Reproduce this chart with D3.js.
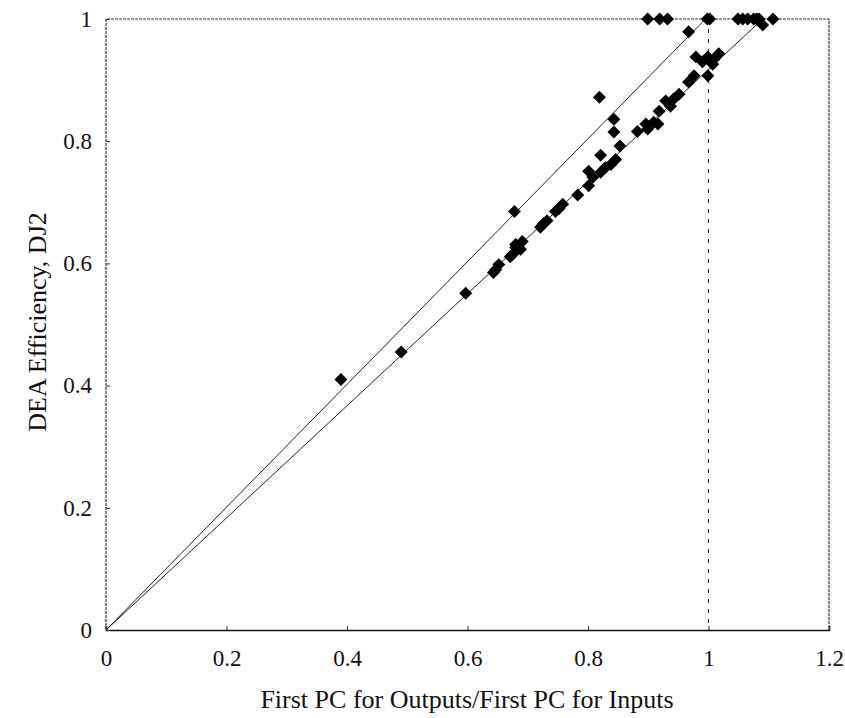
<!DOCTYPE html>
<html>
<head>
<meta charset="utf-8">
<script src="https://cdn.jsdelivr.net/npm/d3@7"></script>
<style>
  body { margin: 0; background: #fff; }
  text { font-family: "Liberation Serif", "DejaVu Serif", serif; fill: #111; }
</style>
</head>
<body>
<script>
// tick values on both axes
var xTicks = [0, 0.2, 0.4, 0.6, 0.8, 1, 1.2],
    yTicks = [0, 0.2, 0.4, 0.6, 0.8, 1];

// firms: ratio of first PCs (x) against DEA efficiency (y)
var ratio = [0.39, 0.49, 0.597, 0.643, 0.647, 0.652, 0.671, 0.675, 0.680, 0.688, 0.680, 0.691,
    0.678, 0.721, 0.726, 0.732, 0.746, 0.752, 0.758, 0.783, 0.801, 0.808, 0.801, 0.821,
    0.829, 0.838, 0.846, 0.821, 0.853, 0.843, 0.843, 0.819, 0.882, 0.896, 0.899, 0.909,
    0.916, 0.918, 0.929, 0.937, 0.942, 0.951, 0.967, 0.976, 0.999, 0.979, 0.990, 0.999,
    1.007, 1.017, 1.010, 0.967, 0.899, 0.919, 0.932, 0.998, 1.002, 1.049, 1.057, 1.065,
    1.075, 1.080, 1.084, 1.090, 1.107];
var efficiency = [0.41, 0.455, 0.551, 0.585, 0.590, 0.598, 0.611, 0.615, 0.626, 0.623, 0.631, 0.636,
    0.685, 0.659, 0.665, 0.670, 0.685, 0.690, 0.697, 0.712, 0.727, 0.741, 0.751, 0.749,
    0.757, 0.762, 0.770, 0.777, 0.792, 0.815, 0.836, 0.872, 0.816, 0.828, 0.820, 0.831,
    0.828, 0.849, 0.866, 0.857, 0.869, 0.877, 0.897, 0.907, 0.907, 0.938, 0.930, 0.938,
    0.926, 0.943, 0.935, 0.979, 1, 1, 1, 1, 1, 1, 1, 1,
    1, 1, 1, 0.99, 1];

// the two rays from the origin
var upperRay = [[0, 0], [0.995, 1]],
    lowerRay = [[0, 0], [1.09, 1]];

var width = 845, height = 718;
var margin = {left: 106, right: 16, top: 19, bottom: 88};

var x = d3.scaleLinear().domain([0, 1.2]).range([margin.left, width - margin.right]);
var y = d3.scaleLinear().domain([0, 1]).range([height - margin.bottom, margin.top]);

var svg = d3.select("body").append("svg")
    .attr("width", width)
    .attr("height", height);

// frame (dotted on three sides)
svg.append("path")
    .attr("d", "M" + x(0) + "," + y(0) + "V" + y(1) + "H" + x(1.2) + "V" + y(0))
    .attr("fill", "none")
    .attr("stroke", "#333")
    .attr("stroke-width", 1.2)
    .attr("stroke-dasharray", "3,1");

// dashed vertical at ratio = 1
svg.append("line")
    .attr("x1", x(1)).attr("x2", x(1))
    .attr("y1", y(1)).attr("y2", y(0))
    .attr("stroke", "#222")
    .attr("stroke-width", 1)
    .attr("stroke-dasharray", "4,6");

// axes with small inward ticks
var fmt = function(d) { return String(+d.toFixed(1)); };

var xAxis = svg.append("g")
    .attr("transform", "translate(0," + y(0) + ")")
    .call(d3.axisBottom(x).tickValues(xTicks).tickSize(-4).tickPadding(20).tickFormat(fmt));
xAxis.select(".domain").attr("stroke", "#111").attr("stroke-width", 1.6);

var yAxis = svg.append("g")
    .attr("transform", "translate(" + x(0) + ",0)")
    .call(d3.axisLeft(y).tickValues(yTicks).tickSize(-4).tickPadding(14).tickFormat(fmt));
yAxis.select(".domain").remove();

svg.selectAll(".tick text")
    .style("font-family", "'Liberation Serif', serif")
    .style("font-size", "23px")
    .attr("fill", "#111");
svg.selectAll(".tick line").attr("stroke", "#333");

// the two rays
var line = d3.line()
    .x(function(d) { return x(d[0]); })
    .y(function(d) { return y(d[1]); });

[upperRay, lowerRay].forEach(function(r) {
    svg.append("path")
        .attr("d", line(r))
        .attr("fill", "none")
        .attr("stroke", "#222")
        .attr("stroke-width", 1);
});

// diamonds
var diamond = d3.symbol().type(d3.symbolSquare).size(84);
svg.append("g").selectAll("path")
    .data(ratio.map(function(r, i) { return [r, efficiency[i]]; }))
    .enter().append("path")
    .attr("d", diamond)
    .attr("transform", function(d) {
        return "translate(" + x(d[0]) + "," + y(d[1]) + ") rotate(45)";
    })
    .attr("fill", "#000");

// axis titles
svg.append("text")
    .attr("x", 467).attr("y", 708)
    .attr("text-anchor", "middle")
    .style("font-size", "26px")
    .text("First PC for Outputs/First PC for Inputs");

svg.append("text")
    .attr("transform", "translate(46,322) rotate(-90)")
    .attr("text-anchor", "middle")
    .style("font-size", "26px")
    .text("DEA Efficiency, DJ2");
</script>
</body>
</html>
